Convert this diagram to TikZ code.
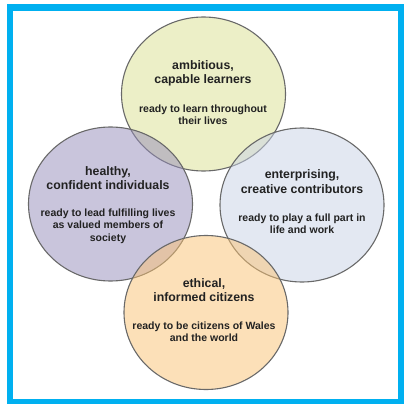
\documentclass[tikz,border=0pt]{standalone}
\usepackage{fontspec}
\setmainfont{Liberation Sans}
\usetikzlibrary{shapes.geometric}
\definecolor{framecol}{RGB}{0,176,240}
\definecolor{ringline}{RGB}{105,105,105}
\definecolor{txt}{RGB}{34,34,34}
\definecolor{learncol}{RGB}{219,225,145}
\definecolor{healthcol}{RGB}{149,141,187}
\definecolor{enterprisecol}{RGB}{201,211,231}
\definecolor{ethicscol}{RGB}{251,195,115}
\tikzset{
  ring/.style={draw=ringline,shape=ellipse,line width=1.1pt,minimum width=164pt,minimum height=154pt,inner sep=0pt,fill opacity=0.5},
  headtext/.style={align=center,font=\fontsize{12.3}{14.5}\selectfont\bfseries,text=txt,inner sep=0pt},
  bodytext/.style={align=center,font=\fontsize{10.5}{12.5}\selectfont\bfseries,text=txt,inner sep=0pt}
}
\begin{document}
\begin{tikzpicture}[x=1pt,y=-1pt]
\useasboundingbox (0,0) rectangle (404,404);
\fill[white] (0,0) rectangle (404,404);
\draw[framecol,line width=6.5pt] (10.2,7.5) rectangle (401,402.5);
% the four rings
\node [ring,fill=learncol,name=learners] at (203.5,94) {};
\node [ring,fill=healthcol,name=individuals] at (110.5,204) {};
\node [ring,fill=enterprisecol,name=contributors] at (302,205) {};
\node [ring,fill=ethicscol,name=citizens] at (206,312.5) {};
% texts
\node [headtext,name=learnershead] at (203,73.5) {ambitious,\\capable learners};
\node [bodytext,name=learnersbody] at (203,114.5) {ready to learn throughout\\their lives};
\node [headtext,name=individualshead] at (108,178) {healthy,\\confident individuals};
\node [bodytext,name=individualsbody] at (108,226) {ready to lead fulfilling lives\\as valued members of\\society};
\node [headtext,name=contributorshead] at (302,181.5) {enterprising,\\creative contributors};
\node [bodytext,name=contributorsbody] at (302,223.5) {ready to play a full part in\\life and work};
\node [headtext,name=citizenshead] at (204,290) {ethical,\\informed citizens};
\node [bodytext,name=citizensbody] at (204,331.5) {ready to be citizens of Wales\\and the world};
\end{tikzpicture}
\end{document}
